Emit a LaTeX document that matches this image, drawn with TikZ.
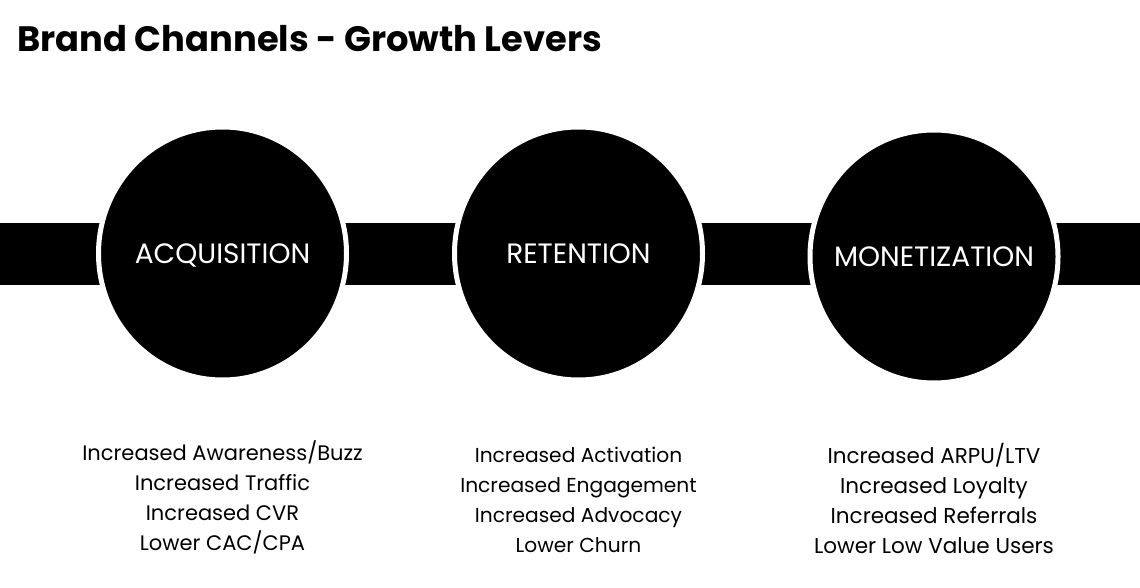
\documentclass[tikz,border=0pt]{standalone}
\usepackage{fontspec}
\usetikzlibrary{shapes.geometric}
\setmainfont{Poppins}
\begin{document}
\begin{tikzpicture}[x=1pt,y=-1pt,
    lever/.style={ellipse, fill=black, draw=white, line width=5pt, minimum width=248pt, minimum height=253pt, inner sep=0pt},
    levername/.style={inner sep=0pt, text=white, text height=26pt, text depth=6pt, font=\fontsize{28}{32}\selectfont},
    levertext/.style={align=center, font=\fontsize{21}{30}\selectfont}]
    \useasboundingbox (0,0) rectangle (1140,588);

    % Title
    \node[anchor=west, inner sep=0pt, font=\fontsize{35.3}{40}\selectfont\bfseries] (title) at (17,39) {Brand Channels - Growth Levers};

    % Band
    \fill[black] (0,223) rectangle (1140,285);

    % Circles
    \node[lever] (acq) at (222.5,253.5) {};
    \node[lever] (ret) at (578.5,253.5) {};
    \node[lever] (mon) at (934,256.5) {};

    % Names
    \node[levername] (acqname) at (acq) {ACQUISITION};
    \node[levername] (retname) at (ret) {RETENTION};
    \node[levername] (monname) at (mon) {MONETIZATION};

    % Lists
    \node[levertext] (acqlist) at (222.5,497) {Increased Awareness/Buzz\\Increased Traffic\\Increased CVR\\Lower CAC/CPA};
    \node[levertext, font=\fontsize{20.2}{30}\selectfont] (retlist) at (578.5,500) {Increased Activation\\Increased Engagement\\Increased Advocacy\\Lower Churn};
    \node[levertext, font=\fontsize{21.5}{30}\selectfont] (monlist) at (934,498.7) {Increased ARPU/LTV\\Increased Loyalty\\Increased Referrals\\Lower Low Value Users};
\end{tikzpicture}
\end{document}
